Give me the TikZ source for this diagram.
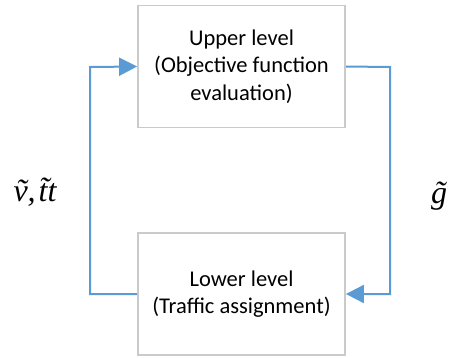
\documentclass[tikz,border=0pt]{standalone}
\usepackage{fontspec}
\setmainfont{Carlito}
\newfontfamily\timesf{Liberation Serif}
\usetikzlibrary{arrows.meta}
\definecolor{boxgray}{HTML}{CACACA}
\definecolor{lineblue}{HTML}{5B9BD5}
\tikzset{
  levelbox/.style={draw=boxgray, line width=1.8pt, fill=white, minimum width=207pt, minimum height=122pt, align=center, font=\fontsize{22.5}{27.5}\selectfont, inner sep=0pt},
  flow/.style={draw=lineblue, line width=2pt, -{Triangle[length=18pt,width=18pt]}},
  mathlbl/.style={font=\timesf\itshape\fontsize{32}{34}\selectfont, inner sep=0pt}
}
\begin{document}
\begin{tikzpicture}[x=1pt,y=-1pt]
\useasboundingbox (0,0) rectangle (452,357);
\node[levelbox] (up) at (241.5,66.5) {Upper level\\(Objective function\\evaluation)};
\node[levelbox] (low) at (241.5,294) {Lower level\\(Traffic assignment)};
\coordinate (lc1) at (90,294);
\coordinate (lc2) at (90,67);
\coordinate (rc1) at (390,67);
\coordinate (rc2) at (390,294);
\draw[flow] (low.west) -- (lc1) -- (lc2) -- (up.west);
\draw[flow] (up.east) -- (rc1) -- (rc2) -- (low.east);
\node[mathlbl] (vt) at (35,192) {\~{v},\kern3pt\~{t}t};
\node[mathlbl] (g) at (439,196) {\~{g}};
\end{tikzpicture}
\end{document}
